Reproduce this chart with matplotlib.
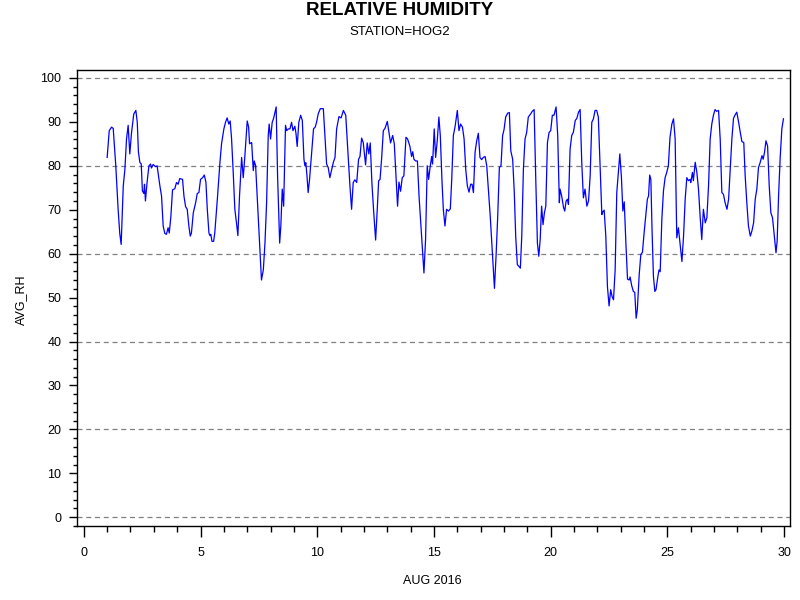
import matplotlib
matplotlib.use("Agg")
import matplotlib.pyplot as plt
import numpy as np
from matplotlib.ticker import MultipleLocator

plt.rcParams['font.family'] = ['Liberation Sans', 'DejaVu Sans']

# day of August 2016 (fractional) and average relative humidity
day = [
    1.00, 1.09, 1.19, 1.26, 1.37, 1.47, 1.54, 1.60, 1.69, 1.76, 1.83, 1.90, 1.97, 2.04,
    2.14, 2.23, 2.29, 2.34, 2.40, 2.46, 2.51, 2.57, 2.60, 2.64, 2.71, 2.79, 2.86, 2.90,
    2.97, 3.07, 3.14, 3.26, 3.33, 3.40, 3.47, 3.54, 3.61, 3.66, 3.73, 3.80, 3.90, 3.97,
    4.04, 4.11, 4.23, 4.29, 4.36, 4.43, 4.50, 4.56, 4.61, 4.69, 4.79, 4.86, 4.93, 5.00,
    5.09, 5.16, 5.23, 5.29, 5.36, 5.40, 5.44, 5.49, 5.56,
    5.61, 5.73, 5.83, 5.90, 6.00, 6.07, 6.14, 6.21, 6.27, 6.33, 6.40, 6.47, 6.54, 6.60,
    6.67, 6.76, 6.83, 6.90, 7.00, 7.06, 7.10, 7.19, 7.26, 7.30, 7.36, 7.44, 7.53, 7.61,
    7.69, 7.76, 7.83, 7.90, 7.94, 8.00, 8.07, 8.13, 8.19, 8.24, 8.30, 8.39, 8.44, 8.50,
    8.56, 8.64, 8.69, 8.76, 8.83, 8.90, 8.96, 9.04, 9.09, 9.14, 9.21, 9.29, 9.36, 9.43,
    9.47, 9.51, 9.56, 9.61, 9.67, 9.76, 9.84, 9.91, 9.97, 10.04, 10.13, 10.26, 10.33,
    10.40, 10.47,
    10.54, 10.62, 10.69, 10.76, 10.83, 10.93, 11.02, 11.12, 11.22, 11.33, 11.40, 11.47,
    11.54, 11.61, 11.69, 11.77, 11.83, 11.90, 11.97, 12.07, 12.14, 12.21, 12.27, 12.34,
    12.41, 12.50, 12.57, 12.63, 12.69, 12.76, 12.83, 12.90, 13.00, 13.07, 13.14, 13.23,
    13.30, 13.37, 13.44, 13.50, 13.57, 13.64, 13.71, 13.80, 13.87, 13.97, 14.04, 14.09,
    14.14, 14.21, 14.29, 14.36, 14.44, 14.51, 14.57, 14.64, 14.71, 14.77, 14.83, 14.90,
    14.94, 15.01, 15.07, 15.14, 15.21, 15.27, 15.34, 15.40,
    15.47, 15.54, 15.62, 15.70, 15.76, 15.83, 15.90, 16.00, 16.07, 16.14, 16.22, 16.29,
    16.36, 16.43, 16.50, 16.57, 16.63, 16.69, 16.76, 16.83, 16.90, 16.97, 17.04, 17.11,
    17.19, 17.26, 17.33, 17.41, 17.50, 17.59, 17.66, 17.73, 17.80, 17.87, 17.94, 18.00,
    18.07, 18.16, 18.23, 18.29, 18.37, 18.44, 18.50, 18.57, 18.64, 18.70, 18.76, 18.83,
    18.90, 18.97, 19.04, 19.14, 19.21, 19.29, 19.36, 19.43, 19.49, 19.55, 19.61, 19.67,
    19.73, 19.79, 19.86, 19.93, 20.00, 20.07, 20.14, 20.23, 20.30, 20.37,
    20.40, 20.47, 20.55, 20.60, 20.66, 20.72, 20.76, 20.83, 20.90, 20.97, 21.05, 21.12,
    21.19, 21.26, 21.33, 21.40, 21.47, 21.55, 21.62, 21.69, 21.76, 21.83, 21.90, 21.97,
    22.04, 22.12, 22.19, 22.23, 22.29, 22.36, 22.43, 22.50, 22.57, 22.63, 22.69, 22.76,
    22.83, 22.90, 22.96, 23.03, 23.09, 23.15, 23.22, 23.29, 23.36, 23.40, 23.47, 23.54,
    23.60, 23.66, 23.71, 23.79, 23.86, 23.93, 24.00, 24.07, 24.14, 24.19, 24.24, 24.29,
    24.34, 24.40, 24.46, 24.51, 24.59, 24.64, 24.69, 24.76, 24.83, 24.90, 24.97, 25.04,
    25.11, 25.19, 25.26, 25.33,
    25.40, 25.47, 25.54, 25.62, 25.69, 25.76, 25.83, 25.90, 25.97, 26.00, 26.07, 26.11,
    26.19, 26.26, 26.33, 26.40, 26.47, 26.54, 26.62, 26.69, 26.76, 26.83, 26.90, 26.97,
    27.04, 27.11, 27.19, 27.26, 27.33, 27.40, 27.47, 27.55, 27.62, 27.69, 27.76, 27.83,
    27.90, 27.97, 28.05, 28.12, 28.19, 28.27, 28.33, 28.40, 28.47, 28.55, 28.62, 28.69,
    28.76, 28.83, 28.90, 28.97, 29.05, 29.10, 29.16, 29.22, 29.29, 29.36, 29.43, 29.50,
    29.57, 29.65, 29.70, 29.76, 29.83, 29.90, 29.97,
]
avg_rh = [
    81.9, 88.0, 88.8, 88.5, 80.0, 70.1, 64.6, 62.1, 75.4, 79.2, 86.1, 89.2, 82.7, 87.3,
    91.8, 92.6, 89.9, 83.1, 80.8, 80.4, 74.3, 73.7, 75.8, 72.0, 76.2, 80.0, 80.4, 79.5,
    80.3, 79.8, 80.0, 75.4, 73.1, 66.3, 64.6, 64.4, 65.9, 64.7, 68.5, 74.5, 74.8, 76.2,
    75.8, 77.1, 76.9, 73.1, 70.7, 70.1, 66.3, 64.0, 64.7, 69.3, 71.6, 73.7, 73.9, 76.9,
    77.3, 77.9, 76.3, 70.1, 64.7, 64.1, 64.4, 62.8, 62.8,
    64.7, 73.1, 80.7, 85.0, 88.4, 89.9, 90.9, 89.5, 90.2, 86.1, 78.5, 70.1, 67.0, 64.1,
    73.1, 81.9, 77.3, 82.3, 90.2, 88.8, 85.0, 85.3, 78.9, 81.1, 80.0, 71.6, 62.4, 54.0,
    56.3, 62.4, 71.6, 86.9, 89.5, 86.1, 89.9, 90.8, 92.2, 93.4, 77.7, 62.4, 66.3, 74.7,
    70.8, 89.2, 88.0, 88.4, 88.4, 89.9, 88.0, 89.0, 87.3, 84.4, 89.9, 91.5, 90.3, 81.5,
    80.0, 80.7, 77.7, 73.9, 76.9, 83.1, 88.4, 88.8, 89.9, 91.8, 93.0, 93.0, 86.9,
    80.4, 79.6,
    77.3, 79.2, 80.8, 81.9, 88.4, 91.2, 90.9, 92.6, 91.5, 81.5, 75.4, 70.1,
    76.2, 76.8, 76.2, 81.5, 82.1, 86.3, 85.3, 80.2, 85.2, 82.7, 85.2, 76.2,
    70.1, 63.1, 70.1, 76.6, 76.9, 81.9, 88.0, 88.5, 90.1, 87.6, 85.2, 86.9,
    85.0, 77.7, 70.8, 76.3, 74.2, 77.3, 77.7, 86.5, 86.1, 84.4, 82.1, 83.2,
    81.5, 81.1, 81.1, 73.1, 66.3, 60.2, 55.6, 63.3, 80.0, 76.9, 79.5, 82.1,
    80.4, 88.4, 81.9, 85.7, 91.1, 86.9, 76.9, 70.1,
    66.3, 70.1, 69.7, 70.2, 76.9, 86.9, 88.8, 92.6, 88.0, 89.5, 88.8, 86.1,
    79.2, 75.4, 74.0, 75.8, 75.8, 73.9, 83.1, 85.7, 87.4, 81.9, 81.4, 81.9,
    82.1, 80.0, 74.7, 68.5, 60.5, 52.1, 59.6, 68.5, 79.6, 80.0, 86.9, 88.2,
    91.1, 92.0, 92.1, 83.4, 81.5, 73.9, 64.0, 57.5, 57.1, 56.7, 64.0, 79.2,
    86.1, 87.6, 91.1, 91.8, 92.4, 92.8, 76.9, 62.4, 59.4, 63.3, 70.8, 66.6,
    69.3, 70.8, 85.3, 87.6, 88.0, 91.5, 91.5, 93.4, 86.9, 71.6,
    74.7, 73.1, 70.5, 69.7, 72.0, 72.4, 71.2, 83.8, 86.9, 87.6, 90.3, 90.8,
    92.2, 92.8, 80.7, 72.7, 74.7, 70.8, 72.0, 77.7, 89.9, 90.7, 92.6, 92.6,
    91.1, 79.2, 68.9, 69.5, 69.9, 64.0, 52.5, 48.1, 51.8, 50.2, 49.5, 56.3,
    73.9, 78.8, 82.7, 77.3, 69.7, 71.8, 62.4, 54.2, 54.0, 54.7, 52.7, 51.4,
    51.2, 45.3, 47.2, 55.2, 59.8, 60.3, 64.7, 68.5, 72.4, 73.1, 77.9, 76.9,
    65.5, 54.8, 51.4, 51.8, 54.8, 56.3, 55.9, 67.8, 74.3, 77.3, 78.5, 80.0,
    86.5, 89.5, 90.7, 86.1,
    63.6, 65.9, 62.4, 58.2, 64.0, 72.4, 77.3, 76.6, 76.9, 76.2, 78.5, 76.6,
    80.8, 78.5, 74.7, 68.5, 63.2, 70.1, 67.0, 68.2, 75.4, 86.1, 89.5, 91.5,
    92.8, 92.4, 92.6, 86.1, 73.9, 73.5, 71.6, 70.1, 72.4, 79.2, 86.1, 90.8,
    91.6, 92.2, 89.9, 87.6, 85.5, 85.3, 77.7, 71.6, 66.3, 64.0, 65.2, 67.0,
    72.4, 74.7, 79.6, 80.7, 82.3, 81.5, 83.1, 85.7, 84.5, 75.4, 69.3, 68.2,
    64.4, 60.2, 62.9, 73.1, 81.9, 88.4, 90.7,
]

fig = plt.figure(figsize=(8, 6), dpi=100)
ax = fig.add_axes([0.096, 0.1233, 0.8915, 0.76])

# dashed reference lines every 20
for y in range(0, 101, 20):
    ax.axhline(y, color='#808080', linestyle=(0, (4, 3)), linewidth=0.9, zorder=1)

ax.plot(day, avg_rh, color='#0000ff', linewidth=0.9, zorder=2)

ax.set_xlim(-0.3, 30.25)
ax.set_ylim(-2.0, 101.8)
ax.xaxis.set_major_locator(MultipleLocator(5))
ax.xaxis.set_minor_locator(MultipleLocator(1))
ax.yaxis.set_major_locator(MultipleLocator(10))
ax.yaxis.set_minor_locator(MultipleLocator(2))

ax.tick_params(axis='x', which='major', length=8, width=1, labelsize=9, pad=7)
ax.tick_params(axis='x', which='minor', length=4, width=1)
ax.tick_params(axis='y', which='major', length=6, width=1, labelsize=9, pad=5)
ax.tick_params(axis='y', which='minor', length=3, width=1)
for s in ax.spines.values():
    s.set_linewidth(1)

fig.text(0.5, 0.982, 'RELATIVE HUMIDITY', ha='center', va='center',
         fontsize=13.5, fontweight='bold')
fig.text(0.5, 0.946, 'STATION=HOG2', ha='center', va='center', fontsize=9.5)
fig.text(0.026, 0.5, 'AVG_RH', ha='center', va='center', rotation=90, fontsize=9)
fig.text(0.541, 0.032, 'AUG 2016', ha='center', va='center', fontsize=9)

fig.savefig('out.png', dpi=100)
